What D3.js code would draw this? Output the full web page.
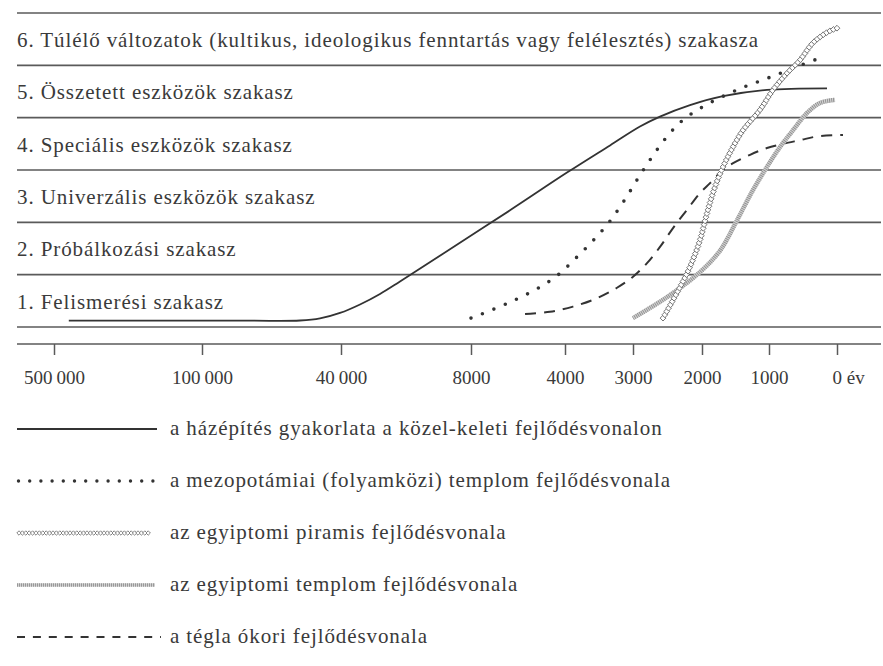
<!DOCTYPE html>
<html><head><meta charset="utf-8">
<script src="https://cdn.jsdelivr.net/npm/d3@7/dist/d3.min.js"></script>
<style>body{margin:0;background:#fff}svg{display:block}text{font-family:"Liberation Serif","Times New Roman",serif;fill:#3a3a3a}</style>
</head><body><svg id="c" width="883" height="666"></svg>
<script>
// ---------- DATA ----------
const stageLabels = [
  "1. Felismerési szakasz",
  "2. Próbálkozási szakasz",
  "3. Univerzális eszközök szakasz",
  "4. Speciális eszközök szakasz",
  "5. Összetett eszközök szakasz",
  "6. Túlélő változatok (kultikus, ideologikus fenntartás vagy felélesztés) szakasza"
];
const tickYears = [500000, 100000, 40000, 8000, 4000, 3000, 2000, 1000, 0];
const tickLabels = ["500\u2009000", "100\u2009000", "40\u2009000", "8000", "4000", "3000", "2000", "1000", "0"];
const yearUnit = "év";

// house building (Near East)
const houseYears = [460000, 150000, 78000, 57700, 49060, 40430, 35320, 30400, 25480, 14890, 6340, 3971, 3338, 2899, 2609, 2174, 1687, 1030, 147];
const houseStage = [0.12, 0.12, 0.12, 0.124, 0.163, 0.268, 0.43, 0.631, 0.87, 1.40, 2.23, 2.95, 3.47, 3.83, 4.02, 4.24, 4.41, 4.53, 4.56];
// Mesopotamian temple
const mesoYears = [8000, 6510, 5110, 4256, 3838, 3588, 3353, 3147, 2855, 2536, 2290, 1985, 1478, 970, 500, 162];
const mesoStage = [0.17, 0.44, 0.75, 1.01, 1.32, 1.65, 2.00, 2.38, 2.99, 3.59, 3.94, 4.21, 4.53, 4.78, 5.02, 5.18];
// Egyptian pyramid
const pyrYears = [2565, 2319, 2174, 2029, 1924, 1805, 1686, 1537, 1388, 1134, 941, 735, 544, 353, 132, 0];
const pyrStage = [0.17, 0.76, 1.15, 1.66, 2.18, 2.68, 3.06, 3.44, 3.76, 4.15, 4.53, 4.85, 5.10, 5.43, 5.64, 5.71];
// Egyptian temple
const templeYears = [3000, 2507, 2029, 1730, 1477, 1238, 1030, 838, 647, 441, 250, 29];
const templeStage = [0.17, 0.57, 1.05, 1.46, 2.04, 2.62, 3.06, 3.44, 3.76, 4.09, 4.28, 4.34];
// brick
const brickYears = [5700, 4640, 3882, 3530, 3235, 3000, 2797, 2609, 2420, 2217, 2029, 1880, 1687, 1536, 1283, 1030, 794, 544, 294, -88];
const brickStage = [0.25, 0.29, 0.39, 0.55, 0.75, 0.96, 1.22, 1.53, 1.89, 2.24, 2.56, 2.75, 3.00, 3.13, 3.29, 3.42, 3.50, 3.57, 3.64, 3.67];

const legendLabels = [
  "a házépítés gyakorlata a közel-keleti fejlődésvonalon",
  "a mezopotámiai (folyamközi) templom fejlődésvonala",
  "az egyiptomi piramis fejlődésvonala",
  "az egyiptomi templom fejlődésvonala",
  "a tégla ókori fejlődésvonala"
];

// ---------- LAYOUT ----------
const svg = d3.select("#c");
const lineLeft = 17, lineRight = 881;
const firstTick = 54, tickGaps = [148, 139, 130, 94, 68, 69, 67, 68];
const tickPos = tickGaps.reduce((a, g) => (a.push(a[a.length - 1] + g), a), [firstTick]);
const x = d3.scaleLinear().domain(tickYears).range(tickPos);
const y = d3.scaleLinear().domain([0, 6]).range([327, 13]);
const axisY = 344;
const lineCol = "#5a5a5a", ink = "#333";

// band lines
svg.append("g").selectAll("line").data(d3.range(0, 7)).join("line")
  .attr("x1", lineLeft).attr("x2", lineRight)
  .attr("y1", d => y(d)).attr("y2", d => y(d))
  .attr("stroke", lineCol).attr("stroke-width", 1.6);

// stage labels
const fs = 21, ls = 0.9;
svg.append("g").selectAll("text").data(stageLabels).join("text")
  .attr("x", lineLeft).attr("y", (d, i) => y(i) - 18.5)
  .attr("font-size", fs).attr("letter-spacing", ls)
  .text(d => d);

// axis
const axis = d3.axisBottom(x).tickValues(tickYears).tickSize(11).tickSizeOuter(0)
  .tickFormat((d, i) => tickLabels[i]);
const ag = svg.append("g").attr("transform", `translate(0,${axisY})`).call(axis);
ag.select(".domain").remove();
ag.selectAll(".tick line").attr("stroke", lineCol).attr("stroke-width", 1.5);
ag.selectAll(".tick text").attr("y", 40).attr("dy", 0).attr("fill", "#4a4a4a")
  .style("font-family", '"Liberation Serif",serif').attr("font-size", 19);
ag.append("line").attr("x1", lineLeft).attr("x2", lineRight).attr("stroke", lineCol).attr("stroke-width", 1.6);
// unit after last tick label
ag.select(".tick:last-of-type text").attr("text-anchor", "start").attr("x", -5)
  .text(tickLabels[tickLabels.length - 1] + " " + yearUnit);

// ---------- SERIES ----------
const line = d3.line().x(d => x(d[0])).y(d => y(d[1])).curve(d3.curveCatmullRom.alpha(0.5));
const zip = (a, b) => a.map((v, i) => [v, b[i]]);

function diamondsAlong(g, pathNode, step, r, col) {
  const L = pathNode.getTotalLength();
  const pts = d3.range(0, L + 0.01, step).map(l => pathNode.getPointAtLength(l));
  g.selectAll("path.dm").data(pts).join("path").attr("class", "dm")
    .attr("d", p => `M${p.x},${p.y - r}L${p.x + r},${p.y}L${p.x},${p.y + r}L${p.x - r},${p.y}Z`)
    .attr("fill", "#fff").attr("stroke", col).attr("stroke-width", 0.9);
}
function templeStyle(sel, w) {
  sel.each(function () {
    const d = d3.select(this).attr("d");
    const p = d3.select(this.parentNode);
    p.append("path").attr("d", d).attr("fill", "none").attr("stroke", "#d0d0d0").attr("stroke-width", w);
    p.append("path").attr("d", d).attr("fill", "none").attr("stroke", "#8a8a8a").attr("stroke-width", w)
      .attr("stroke-dasharray", "0.8 1.2");
  });
  sel.remove();
}

const series = svg.append("g");
// brick (dashed)
series.append("path").attr("d", line(zip(brickYears, brickStage)))
  .attr("fill", "none").attr("stroke", ink).attr("stroke-width", 2).attr("stroke-dasharray", "11 8");
// Egyptian temple
const tg = series.append("g");
templeStyle(tg.append("path").attr("d", line(zip(templeYears, templeStage))), 4.5);
// house (solid)
series.append("path").attr("d", line(zip(houseYears, houseStage)))
  .attr("fill", "none").attr("stroke", ink).attr("stroke-width", 1.8);
// Mesopotamian temple (dots)
series.append("path").attr("d", line(zip(mesoYears, mesoStage)))
  .attr("fill", "none").attr("stroke", ink).attr("stroke-width", 3.6)
  .attr("stroke-linecap", "round").attr("stroke-dasharray", "0 12.3");
// Egyptian pyramid (chain of diamonds)
const pg = series.append("g");
const pPath = pg.append("path").attr("d", line(zip(pyrYears, pyrStage))).attr("fill", "none").attr("stroke", "none");
diamondsAlong(pg, pPath.node(), 3.8, 2.9, "#666");

// ---------- LEGEND ----------
const legY0 = 429, legStep = 52, symX0 = 17, symX1 = 157, legTextX = 170;
const leg = svg.append("g");
legendLabels.forEach((lab, i) => {
  const yy = legY0 + i * legStep;
  const g = leg.append("g");
  const seg = `M${symX0},${yy}L${symX1},${yy}`;
  if (i === 0) g.append("path").attr("d", seg).attr("stroke", ink).attr("stroke-width", 1.8);
  if (i === 1) g.append("path").attr("d", `M${symX0 + 1.5},${yy}L${symX1 - 2},${yy}`).attr("stroke", ink).attr("stroke-width", 3.4)
    .attr("stroke-linecap", "round").attr("stroke-dasharray", "0 11.2");
  if (i === 2) { const p = g.append("path").attr("d", `M${symX0 + 2},${yy}L${symX1 - 6},${yy}`).attr("stroke", "none"); diamondsAlong(g, p.node(), 3.4, 2.2, "#777"); }
  if (i === 3) templeStyle(g.append("path").attr("d", `M${symX0},${yy}L${symX1 - 2},${yy}`), 3.5);
  if (i === 4) g.append("path").attr("d", `M${symX0},${yy}L${symX1 + 4},${yy}`).attr("stroke", ink).attr("stroke-width", 2).attr("stroke-dasharray", "8 7.9");
  leg.append("text").attr("x", legTextX).attr("y", yy + 6).attr("font-size", fs).attr("letter-spacing", ls).text(lab);
});
</script>
</body></html>
